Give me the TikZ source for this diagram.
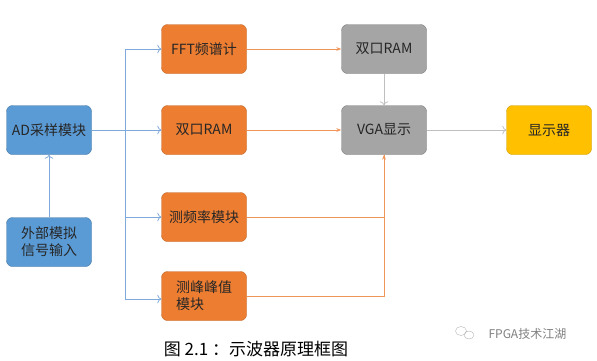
\documentclass[tikz,border=0pt]{standalone}
\usepackage{fontspec}
\setmainfont{Noto Sans CJK SC}
\usetikzlibrary{arrows.meta}
\definecolor{boxblue}{HTML}{5B9BD5}
\definecolor{boxorange}{HTML}{ED7D31}
\definecolor{boxgray}{HTML}{A5A5A5}
\definecolor{boxyellow}{HTML}{FFC000}
\definecolor{lineblue}{HTML}{7FA9DB}
\definecolor{lineorange}{HTML}{F0955A}
\definecolor{linegray}{HTML}{BFBFBF}
\begin{document}
\begin{tikzpicture}[x=1pt, y=-1pt,
            block/.style={rounded corners=6pt, minimum width=85pt, minimum height=49pt,
                inner sep=2pt, font=\fontsize{14}{17}\selectfont, text=black!85},
            blueblock/.style={block, fill=boxblue, draw=boxblue!75!black},
            orangeblock/.style={block, fill=boxorange, draw=boxorange!80!black},
            grayblock/.style={block, fill=boxgray, draw=boxgray!75!black},
            yellowblock/.style={block, fill=boxyellow, draw=boxyellow!80!black},
            bluearrow/.style={draw=lineblue, thick, -{To[length=4pt]}},
            orangearrow/.style={draw=lineorange, thick, -{Stealth[length=5pt]}},
            grayarrow/.style={draw=linegray, thick, -{To[length=4pt]}}]
            \useasboundingbox (0,0) rectangle (597,360);
            % Blocks
            \node[blueblock] (ad) at (49,130) {AD采样模块};
            \node[blueblock, align=center] (input) at (49,242) {外部模拟\\信号输入};
            \node[orangeblock] (fft) at (204,49) {FFT频谱计};
            \node[orangeblock] (ram) at (204,130) {双口RAM};
            \node[orangeblock] (freq) at (204,217) {测频率模块};
            \node[orangeblock, align=left] (peak) at (204,296) {测峰峰值\\模块};
            \node[grayblock] (vram) at (384,49) {双口RAM};
            \node[grayblock] (vga) at (384,130) {VGA显示};
            \node[yellowblock] (disp) at (549,130) {显示器};
            % Blue bus from the AD block
            \coordinate (bustop) at (125,49);
            \coordinate (busbot) at (125,299);
            \draw[bluearrow] (input) -- (ad);
            \draw[bluearrow] (ad) -- (ram);
            \draw[draw=lineblue, thick] (bustop) -- (busbot);
            \draw[bluearrow] (bustop) -- (fft);
            \draw[bluearrow] (bustop |- freq) -- (freq);
            \draw[bluearrow] (busbot) -- (peak.west |- busbot);
            % Orange lines into the VGA side
            \draw[orangearrow] (fft) -- (vram);
            \draw[orangearrow] (ram) -- (vga);
            \draw[draw=lineorange, thick] (freq.east) -| (vga.south);
            \draw[orangearrow] (peak.east) -| (vga.south);
            % Gray arrows
            \draw[grayarrow] (vram) -- (vga);
            \draw[grayarrow] (vga) -- (disp);
            % Caption and mark
            \node[font=\fontsize{17}{19}\selectfont] (caption) at (256,349) {图 2.1 ：示波器原理框图};
            \draw[gray!60, thin] (461,331) ellipse (5.5 and 4.5) (469,335) ellipse (5 and 4);
            \node[gray, font=\fontsize{12}{14}\selectfont, anchor=west] (mark) at (485,334) {FPGA技术江湖};
        \end{tikzpicture}
\end{document}
